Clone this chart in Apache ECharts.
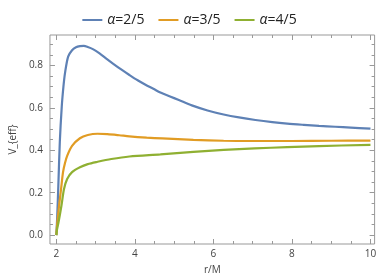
<!DOCTYPE html>
<html>
<head>
<meta charset="utf-8">
<script src="https://cdn.jsdelivr.net/npm/echarts@6/dist/echarts.min.js"></script>
<style>
  html, body { margin: 0; padding: 0; background: #fff; }
  #chart { width: 379px; height: 280px; }
</style>
</head>
<body>
<div id="chart"></div>
<script>
// curves (r/M, V_eff)
var rBlue = [2, 2.02, 2.05, 2.088, 2.137, 2.18, 2.22, 2.3, 2.4, 2.5, 2.6, 2.7, 2.8, 2.93, 3.1, 3.255, 3.45, 3.66, 3.86, 4.07, 4.27, 4.47, 4.65, 4.88, 5.12, 5.45, 5.85, 6.26, 6.65, 7.07, 7.5, 7.88, 8.3, 8.69, 9.1, 9.5, 10];
var vBlue = [0, 0.08, 0.23, 0.44, 0.605, 0.70, 0.764, 0.842, 0.872, 0.886, 0.891, 0.892, 0.887, 0.877, 0.857, 0.835, 0.808, 0.780, 0.755, 0.730, 0.709, 0.690, 0.672, 0.655, 0.637, 0.612, 0.588, 0.569, 0.555, 0.543, 0.533, 0.526, 0.520, 0.515, 0.511, 0.507, 0.502];

var rOrange = [2, 2.01, 2.03, 2.07, 2.12, 2.17, 2.22, 2.275, 2.4, 2.6, 2.8, 3.05, 3.3, 3.6, 3.86, 4.3, 4.7, 5.49, 6.26, 7, 8, 9, 10];
var vOrange = [0, 0.03, 0.07, 0.14, 0.218, 0.297, 0.34, 0.374, 0.421, 0.457, 0.472, 0.478, 0.476, 0.471, 0.466, 0.46, 0.456, 0.449, 0.445, 0.444, 0.444, 0.445, 0.446];

var rGreen = [2, 2.015, 2.056, 2.13, 2.195, 2.275, 2.4, 2.6, 2.8, 3.05, 3.4, 3.86, 4.65, 5.49, 6.26, 7.05, 7.88, 8.69, 10];
var vGreen = [0, 0.025, 0.062, 0.14, 0.218, 0.265, 0.297, 0.32, 0.335, 0.346, 0.359, 0.371, 0.381, 0.393, 0.402, 0.409, 0.415, 0.42, 0.426];

var seriesNames = ['α=2/5', 'α=3/5', 'α=4/5'];
var colors = ['#5e81b5', '#e19c24', '#8fb032'];

var xMajor = [2, 4, 6, 8, 10];
var xMinor = [2.5, 3, 3.5, 4.5, 5, 5.5, 6.5, 7, 7.5, 8.5, 9, 9.5];
var yMajor = [0, 0.2, 0.4, 0.6, 0.8];
var yMinor = [0.05, 0.1, 0.15, 0.25, 0.3, 0.35, 0.45, 0.5, 0.55, 0.65, 0.7, 0.75, 0.85, 0.9];

function zip(a, b) {
  var out = [];
  for (var i = 0; i < a.length; i++) out.push([a[i], b[i]]);
  return out;
}

var X_MIN = 1.837, X_MAX = 10.105;
var Y_MIN = -0.0416, Y_MAX = 0.9436;
var frameColor = '#999999';
var labelColor = '#444444';
var fontFam = 'Open Sans, DejaVu Sans, sans-serif';

// one axis per tick set (major/minor) and per side, like a Mathematica frame
function xAx(pos, ticks, len, labels) {
  return {
    type: 'value', position: pos, min: X_MIN, max: X_MAX,
    axisLine: { show: false, onZero: false },
    axisTick: { show: true, inside: true, length: len, customValues: ticks, lineStyle: { color: frameColor } },
    axisLabel: labels ? { show: true, customValues: xMajor, margin: 5, color: labelColor, fontSize: 10, fontFamily: fontFam } : { show: false },
    splitLine: { show: false },
    name: labels ? 'r/M' : '', nameLocation: 'middle', nameGap: 21,
    nameTextStyle: { color: labelColor, fontSize: 10, fontFamily: fontFam }
  };
}
function yAx(pos, ticks, len, labels) {
  return {
    type: 'value', position: pos, min: Y_MIN, max: Y_MAX,
    axisLine: { show: false, onZero: false },
    axisTick: { show: true, inside: true, length: len, customValues: ticks, lineStyle: { color: frameColor } },
    axisLabel: labels ? { show: true, customValues: yMajor, margin: 7, color: labelColor, fontSize: 10, fontFamily: fontFam, formatter: function (v) { return v.toFixed(1); } } : { show: false },
    splitLine: { show: false },
    name: labels ? 'V_{eff}' : '', nameLocation: 'middle', nameGap: 24, nameRotate: 90,
    nameTextStyle: { color: labelColor, fontSize: 10, fontFamily: fontFam }
  };
}

var chart = echarts.init(document.getElementById('chart'));
var data = [zip(rBlue, vBlue), zip(rOrange, vOrange), zip(rGreen, vGreen)];

chart.setOption({
  animation: false,
  grid: { left: 35, right: 4, top: 35, bottom: 34, show: true, borderColor: frameColor, borderWidth: 1, backgroundColor: 'transparent' },
  legend: {
    top: 8, left: 'center',
    icon: 'rect', itemWidth: 20, itemHeight: 2, itemGap: 14,
    textStyle: {
      fontSize: 14, color: '#222', fontFamily: fontFam,
      rich: { i: { fontStyle: 'italic', fontSize: 14, fontFamily: fontFam, color: '#222' } }
    },
    formatter: function (n) { return '{i|α}' + n.slice(1); },
    data: seriesNames
  },
  xAxis: [
    xAx('bottom', xMajor, 5, true),
    xAx('bottom', xMinor, 3, false),
    xAx('top', xMajor, 5, false),
    xAx('top', xMinor, 3, false)
  ],
  yAxis: [
    yAx('left', yMajor, 5, true),
    yAx('left', yMinor, 3, false),
    yAx('right', yMajor, 5, false),
    yAx('right', yMinor, 3, false)
  ],
  series: seriesNames.map(function (name, i) {
    return {
      name: name, type: 'line', data: data[i],
      xAxisIndex: 0, yAxisIndex: 0,
      showSymbol: false, symbol: 'none',
      smooth: 0.3,
      lineStyle: { color: colors[i], width: 2.2 },
      itemStyle: { color: colors[i] }
    };
  })
});
</script>
</body>
</html>
